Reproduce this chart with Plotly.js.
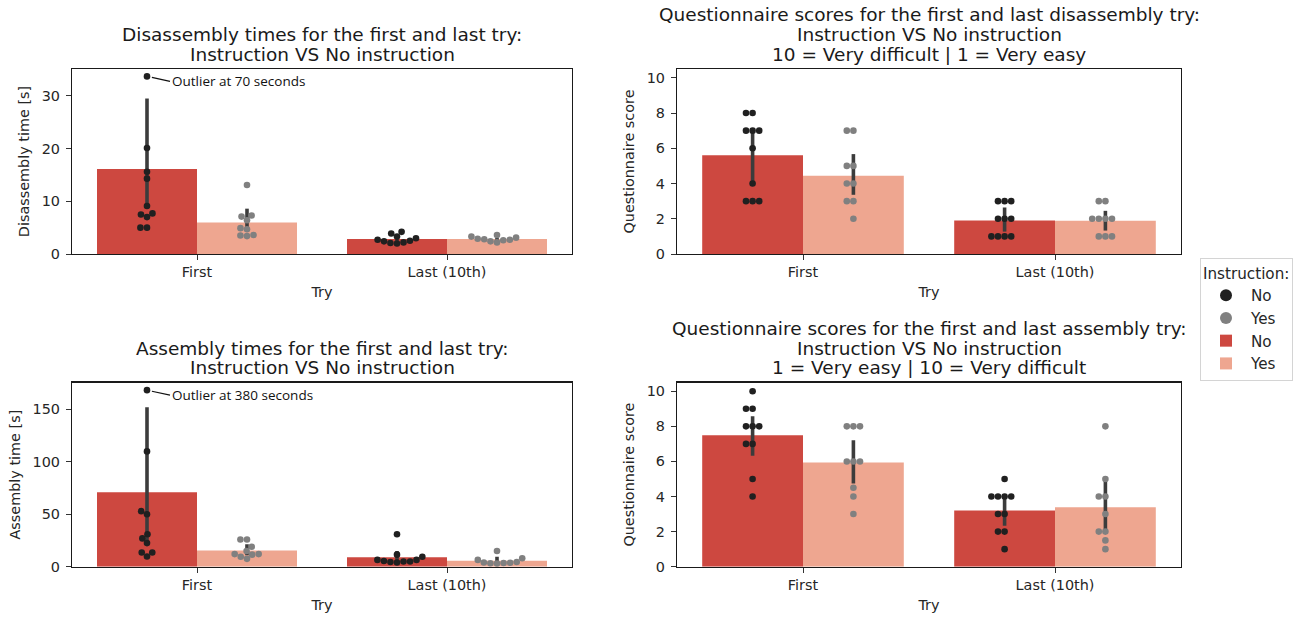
<!DOCTYPE html>
<html>
<head>
<meta charset="utf-8">
<script src="https://cdn.plot.ly/plotly-3.0.1.min.js"></script>
<style>
  html, body { margin: 0; padding: 0; background: #ffffff; }
  #chart { width: 1309px; height: 619px; }
</style>
</head>
<body>
<div id="chart"></div>
<script>
// ---------------- DATA ----------------
const categories = ["First", "Last (10th)"];
const hueLabels = ["No", "Yes"];

// Disassembly time [s] (one value per participant)
const disFirstNo  = [70, 20.1, 15.6, 14.3, 9.1, 7.7, 7.5, 7.0, 5.0, 5.0];
const disFirstYes = [13.1, 7.3, 7.1, 6.4, 4.9, 4.7, 3.6, 3.5, 3.4];
const disLastNo   = [4.2, 3.9, 3.3, 3.0, 2.7, 2.5, 2.4, 2.2, 2.1, 2.0];
const disLastYes  = [3.6, 3.3, 3.1, 2.9, 2.8, 2.7, 2.6, 2.4, 2.2];
const disCiLowNo  = [9.0, 2.4];
const disCiHighNo = [29.5, 3.3];
const disCiLowYes = [4.6, 2.6];
const disCiHighYes= [8.6, 3.1];
const disOutlierShownAt = 33.7;   // outlier (70 s) is drawn clipped at this value

// Assembly time [s]
const asmFirstNo  = [380, 110, 53, 50, 31, 27, 22.5, 13.6, 13.6, 9.8];
const asmFirstYes = [26, 26, 19, 15, 12, 12, 11.5, 9.5, 7.5];
const asmLastNo   = [31, 11.5, 9.5, 6.5, 6.5, 5.5, 5, 5, 4.5, 4];
const asmLastYes  = [15, 8, 6.5, 4.5, 4, 3.7, 3.5, 3.3, 3];
const asmCiLowNo  = [25, 6];
const asmCiHighNo = [152, 15];
const asmCiLowYes = [11, 4];
const asmCiHighYes= [21.5, 9.5];
const asmOutlierShownAt = 168.4;  // outlier (380 s) is drawn clipped at this value

// Questionnaire score, disassembly (10 = very difficult)
const qdFirstNo  = [8, 8, 7, 7, 7, 6, 4, 3, 3, 3];
const qdFirstYes = [7, 7, 5, 5, 4, 4, 3, 3, 2];
const qdLastNo   = [3, 3, 3, 2, 2, 2, 1, 1, 1, 1];
const qdLastYes  = [3, 3, 2, 2, 2, 2, 1, 1, 1];
const qdCiLowNo  = [4.0, 1.27];
const qdCiHighNo = [7.0, 2.64];
const qdCiLowYes = [3.36, 1.33];
const qdCiHighYes= [5.67, 2.45];

// Questionnaire score, assembly (10 = very difficult)
const qaFirstNo  = [10, 9, 9, 8, 8, 8, 7, 7, 5, 4];
const qaFirstYes = [8, 8, 8, 6, 6, 6, 4.5, 4, 3];
const qaLastNo   = [5, 4, 4, 4, 4, 3, 3, 2, 2, 1];
const qaLastYes  = [8, 5, 4, 4, 3, 2, 2, 1.5, 1];
const qaCiLowNo  = [6.32, 2.33];
const qaCiHighNo = [8.58, 3.95];
const qaCiLowYes = [4.74, 2.14];
const qaCiHighYes= [7.21, 5.0];

const titleLines = [
  ["Disassembly times for the first and last try:", "Instruction VS No instruction"],
  ["Questionnaire scores for the first and last disassembly try:", "Instruction VS No instruction", "10 = Very difficult | 1 = Very easy"],
  ["Assembly times for the first and last try:", "Instruction VS No instruction"],
  ["Questionnaire scores for the first and last assembly try:", "Instruction VS No instruction", "1 = Very easy | 10 = Very difficult"]
];
const yTitles = ["Disassembly time [s]", "Questionnaire score", "Assembly time [s]", "Questionnaire score"];
const xTitle = "Try";
const outlierNotes = ["Outlier at 70 seconds", "Outlier at 380 seconds"];

// ---------------- STYLE / LAYOUT ----------------
const W = 1309, H = 619;
const FONT = "DejaVu Sans, Liberation Sans, sans-serif";
const TXT = "#262626";
const barColors = { No: "#cd4840", Yes: "#eea690" };
const dotColors = { No: "#202020", Yes: "#808080" };
const DOT = 6.6;

// subplot frames in pixels: [left, right, top, bottom]
const frames = [
  [72, 572, 69, 254],
  [677, 1181, 69, 254],
  [72, 572, 382.5, 566.7],
  [677, 1181, 382.5, 566.7]
];
const yRanges = [[0, 35.1], [0, 10.5], [0, 175.7], [0, 10.5]];
const yDticks = [10, 2, 50, 2];

const panels = [
  { first: [disFirstNo, disFirstYes], last: [disLastNo, disLastYes],
    ciLow: [disCiLowNo, disCiLowYes], ciHigh: [disCiHighNo, disCiHighYes], cap: disOutlierShownAt, note: outlierNotes[0] },
  { first: [qdFirstNo, qdFirstYes], last: [qdLastNo, qdLastYes],
    ciLow: [qdCiLowNo, qdCiLowYes], ciHigh: [qdCiHighNo, qdCiHighYes], cap: null },
  { first: [asmFirstNo, asmFirstYes], last: [asmLastNo, asmLastYes],
    ciLow: [asmCiLowNo, asmCiLowYes], ciHigh: [asmCiHighNo, asmCiHighYes], cap: asmOutlierShownAt, note: outlierNotes[1] },
  { first: [qaFirstNo, qaFirstYes], last: [qaLastNo, qaLastYes],
    ciLow: [qaCiLowNo, qaCiLowYes], ciHigh: [qaCiHighNo, qaCiHighYes], cap: null }
];

function mean(a) { return a.reduce((s, v) => s + v, 0) / a.length; }

// beeswarm offsets (in pixels) for values already mapped to pixel y
function swarm(ysPx, d) {
  const order = ysPx.map((v, i) => i).sort((a, b) => ysPx[a] - ysPx[b]);
  const placed = [];
  const out = new Array(ysPx.length);
  for (const i of order) {
    const y = ysPx[i];
    const near = placed.filter(p => Math.abs(p.y - y) < d);
    const cands = [0];
    near.forEach(p => {
      const dx = Math.sqrt(d * d - (p.y - y) * (p.y - y));
      cands.push(p.x + dx, p.x - dx);
    });
    cands.sort((a, b) => (Math.abs(a) - Math.abs(b)) || (a - b));
    const x = cands.find(c => near.every(p => (p.x - c) * (p.x - c) + (p.y - y) * (p.y - y) >= d * d - 1e-6));
    placed.push({ x: x, y: y });
    out[i] = x;
  }
  return out;
}

const traces = [];
const annotations = [];
const layout = {
  width: W, height: H,
  margin: { l: 0, r: 0, t: 0, b: 0 },
  paper_bgcolor: "#ffffff", plot_bgcolor: "#ffffff",
  font: { family: FONT, size: 14.4, color: TXT },
  barmode: "group", bargap: 0.2, bargroupgap: 0,
  showlegend: true,
  legend: {
    x: 1200 / W, y: 1 - 258 / H, xanchor: "left", yanchor: "top",
    bgcolor: "#ffffff", bordercolor: "#d4d4d4", borderwidth: 1,
    font: { family: FONT, size: 15.2, color: TXT },
    title: { text: "Instruction:", font: { family: FONT, size: 15.2, color: TXT } },
    itemsizing: "constant", itemwidth: 40, tracegroupgap: 5, traceorder: "normal"
  },
  annotations: annotations
};

panels.forEach((P, k) => {
  const n = k + 1;
  const xa = "x" + (n === 1 ? "" : n), ya = "y" + (n === 1 ? "" : n);
  const xaKey = "xaxis" + (n === 1 ? "" : n), yaKey = "yaxis" + (n === 1 ? "" : n);
  const [L, R, T, B] = frames[k];
  const pxPerX = (R - L) / 2;               // x range is [-0.5, 1.5]
  const pxPerY = (B - T) / (yRanges[k][1] - yRanges[k][0]);

  layout[xaKey] = {
    domain: [L / W, R / W], anchor: ya,
    range: [-0.5, 1.5], tickvals: [0, 1], ticktext: categories,
    showline: true, mirror: true, linecolor: "#1a1a1a", linewidth: 1.1,
    ticks: "outside", ticklen: 5, tickwidth: 1, tickcolor: "#333",
    showgrid: false, zeroline: false, fixedrange: true,
    tickfont: { family: FONT, size: 14.4, color: TXT },
    title: { text: xTitle, standoff: 7, font: { family: FONT, size: 14.4, color: TXT } }
  };
  layout[yaKey] = {
    domain: [1 - B / H, 1 - T / H], anchor: xa,
    range: yRanges[k], dtick: yDticks[k], tick0: 0,
    showline: true, mirror: true, linecolor: "#1a1a1a", linewidth: 1.1,
    ticks: "outside", ticklen: 5, tickwidth: 1, tickcolor: "#333",
    showgrid: false, zeroline: false, fixedrange: true,
    ticklabelstandoff: 3,
    tickfont: { family: FONT, size: 14.4, color: TXT },
    title: { text: yTitles[k], standoff: 8, font: { family: FONT, size: 14.4, color: TXT } }
  };

  // bars (mean) with CI error bars
  hueLabels.forEach((h, hi) => {
    const groups = [P.first[hi], P.last[hi]];
    const means = groups.map(mean);
    traces.push({
      type: "bar", x: [0, 1], y: means, xaxis: xa, yaxis: ya,
      name: h, legendgroup: "bar" + h, legendrank: 3 + hi, showlegend: k === 0,
      offsetgroup: h,
      marker: { color: barColors[h], line: { width: 0 } },
      error_y: {
        type: "data", symmetric: false,
        array: P.ciHigh[hi].map((v, i) => v - means[i]),
        arrayminus: P.ciLow[hi].map((v, i) => means[i] - v),
        color: "#3c3c3c", thickness: 3.6, width: 0
      },
      hoverinfo: "skip"
    });
  });

  // swarm points
  hueLabels.forEach((h, hi) => {
    const xs = [], ys = [];
    [P.first[hi], P.last[hi]].forEach((vals, ci) => {
      const shown = vals.map(v => (P.cap !== null && v > P.cap) ? P.cap : v);
      const offs = swarm(shown.map(v => v * pxPerY), DOT);
      const center = ci + (hi === 0 ? -0.2 : 0.2);
      shown.forEach((v, i) => {
        xs.push(center + offs[i] / pxPerX);
        ys.push(v);
        if (P.cap !== null && vals[i] > P.cap) {
          annotations.push({
            xref: xa, yref: ya, x: center + offs[i] / pxPerX, y: v,
            text: P.note, showarrow: true, arrowhead: 0, arrowwidth: 1.2, arrowcolor: "#111",
            ax: 23, ay: 5, xanchor: "left", yanchor: "middle", standoff: 5,
            font: { family: "Open Sans, Lato, sans-serif", size: 13.5, color: "#111" }
          });
        }
      });
    });
    traces.push({
      type: "scatter", mode: "markers", x: xs, y: ys, xaxis: xa, yaxis: ya,
      name: h, legendgroup: "dot" + h, legendrank: 1 + hi, showlegend: k === 0,
      marker: { color: dotColors[h], size: DOT, line: { width: 0 } },
      cliponaxis: false, hoverinfo: "skip"
    });
  });

  // subplot titles, one annotation per line
  const lines = titleLines[k];
  lines.forEach((t, li) => {
    const cy = T - 15 - (lines.length - 1 - li) * 19.5;
    annotations.push({
      xref: "paper", yref: "paper", x: (L + R) / 2 / W, y: 1 - cy / H,
      xanchor: "center", yanchor: "middle", showarrow: false,
      text: t, font: { family: FONT, size: 18.5, color: "#1a1a1a" }
    });
  });
});

Plotly.newPlot("chart", traces, layout, { staticPlot: true, displayModeBar: false });
</script>
</body>
</html>
